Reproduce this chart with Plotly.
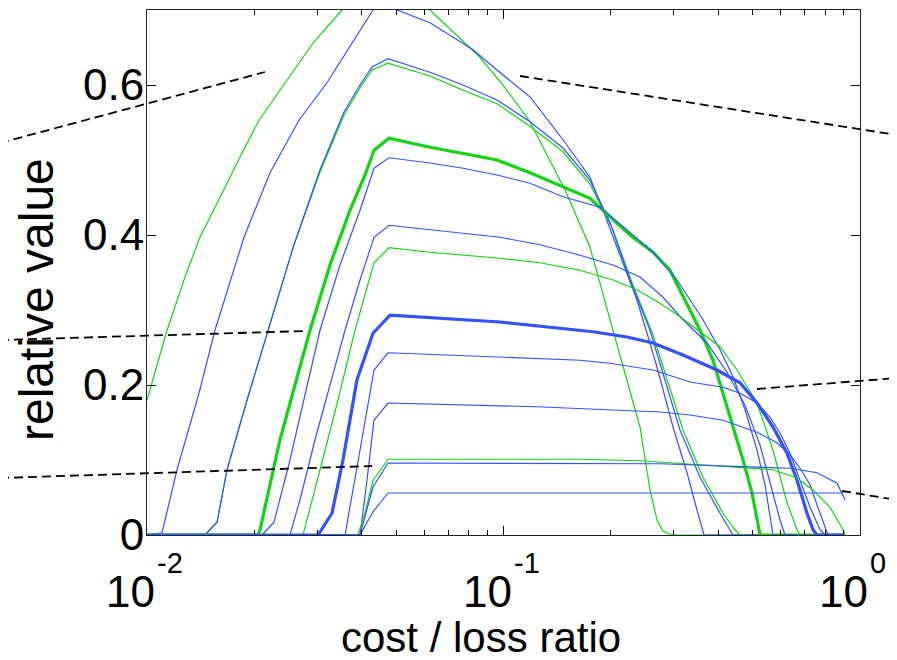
import math
import plotly.graph_objects as go

# ---- data (cost/loss ratio, relative value) ----
g1_x = [0.01, 0.01138, 0.01278, 0.01408, 0.01677, 0.01823, 0.02062, 0.02257, 0.02922, 0.03524, 0.04088, 0.04743, 0.05467, 0.06221, 0.08592, 0.09967, 0.1187, 0.1488, 0.1748, 0.2028, 0.2308, 0.2415, 0.2576, 0.2695, 0.2802, 0.2970, 0.9078]
g1_y = [0.180, 0.273, 0.344, 0.397, 0.469, 0.504, 0.553, 0.580, 0.656, 0.700, 0.727, 0.740, 0.724, 0.700, 0.637, 0.600, 0.551, 0.460, 0.384, 0.273, 0.180, 0.144, 0.060, 0.020, 0.005, 0.0, 0.0]

b1_x = [0.01, 0.01102, 0.01214, 0.01399, 0.01551, 0.01871, 0.02213, 0.02669, 0.03198, 0.04305, 0.04652, 0.05027, 0.06221, 0.08212, 0.09589, 0.1187, 0.1469, 0.1748, 0.1902, 0.2220, 0.2369, 0.2527, 0.2695, 0.2989, 0.3272, 0.3445, 0.3559, 0.3652, 0.9078]
b1_y = [0, 0.003, 0.087, 0.189, 0.273, 0.397, 0.483, 0.553, 0.603, 0.700, 0.707, 0.700, 0.683, 0.647, 0.620, 0.584, 0.527, 0.477, 0.433, 0.349, 0.313, 0.269, 0.224, 0.144, 0.083, 0.043, 0.020, 0.0, 0.0]

g2_x = [0.01, 0.01454, 0.01572, 0.01677, 0.01908, 0.02143, 0.02584, 0.03057, 0.03569, 0.03958, 0.04277, 0.04743, 0.06221, 0.07699, 0.09589, 0.1187, 0.1469, 0.1748, 0.2028, 0.2308, 0.2627, 0.3188, 0.3628, 0.4128, 0.4461, 0.4607, 0.9078]
g2_y = [0, 0, 0.017, 0.087, 0.180, 0.260, 0.387, 0.484, 0.560, 0.596, 0.620, 0.629, 0.612, 0.593, 0.575, 0.545, 0.511, 0.468, 0.407, 0.333, 0.267, 0.140, 0.077, 0.029, 0.007, 0.0, 0.0]

b2_x = [0.01, 0.01454, 0.01572, 0.01677, 0.01908, 0.02143, 0.02584, 0.03057, 0.03569, 0.03958, 0.04277, 0.04743, 0.06221, 0.07699, 0.09589, 0.1187, 0.1469, 0.1748, 0.1989, 0.2264, 0.2576, 0.3127, 0.3559, 0.4049, 0.4319, 0.4404, 0.9078]
b2_y = [0, 0, 0.017, 0.087, 0.180, 0.260, 0.387, 0.487, 0.564, 0.600, 0.624, 0.635, 0.617, 0.600, 0.580, 0.551, 0.516, 0.473, 0.417, 0.340, 0.273, 0.140, 0.077, 0.029, 0.007, 0.0, 0.0]

g3_x = [0.01, 0.02048, 0.02075, 0.02361, 0.02601, 0.02866, 0.03261, 0.03710, 0.04088, 0.04333, 0.04773, 0.06221, 0.08055, 0.09589, 0.1187, 0.1469, 0.1748, 0.2264, 0.2627, 0.2932, 0.3272, 0.3559, 0.3870, 0.4128, 0.4404, 0.4698, 0.4979, 0.5176, 0.5243, 0.9078]
g3_y = [0, 0, 0.007, 0.127, 0.200, 0.273, 0.360, 0.433, 0.480, 0.513, 0.529, 0.517, 0.507, 0.500, 0.483, 0.464, 0.449, 0.400, 0.377, 0.353, 0.309, 0.273, 0.233, 0.189, 0.144, 0.100, 0.056, 0.011, 0.0, 0.0]

b3_x = [0.01, 0.02102, 0.02271, 0.02518, 0.02775, 0.03057, 0.03478, 0.03958, 0.04333, 0.04773, 0.06221, 0.07699, 0.09589, 0.1187, 0.1469, 0.1865, 0.2308, 0.2627, 0.3067, 0.3628, 0.4049, 0.4404, 0.4759, 0.5142, 0.5415, 0.5593, 0.5702, 0.9078]
b3_y = [0, 0, 0.017, 0.100, 0.187, 0.273, 0.360, 0.433, 0.489, 0.503, 0.496, 0.489, 0.480, 0.469, 0.451, 0.437, 0.400, 0.377, 0.340, 0.287, 0.247, 0.211, 0.167, 0.113, 0.067, 0.027, 0.0, 0.0]

b4_x = [0.01, 0.02518, 0.02686, 0.02960, 0.03261, 0.03593, 0.03958, 0.04333, 0.04773, 0.06221, 0.09776, 0.1266, 0.1639, 0.2028, 0.2415, 0.2802, 0.3188, 0.3723, 0.4236, 0.4759, 0.5243, 0.5666, 0.5966, 0.6162, 0.9078]
b4_y = [0, 0, 0.047, 0.127, 0.200, 0.273, 0.340, 0.397, 0.413, 0.407, 0.397, 0.387, 0.373, 0.360, 0.344, 0.317, 0.287, 0.256, 0.217, 0.173, 0.120, 0.060, 0.020, 0.0, 0.0]

g4_x = [0.01, 0.02739, 0.03057, 0.03434, 0.03832, 0.04333, 0.04773, 0.06221, 0.09776, 0.1266, 0.1639, 0.2028, 0.2369, 0.2748, 0.3127, 0.3723, 0.4049, 0.4519, 0.5142, 0.5702, 0.6242, 0.6658, 0.6789, 0.9078]
g4_y = [0, 0, 0.087, 0.180, 0.273, 0.363, 0.383, 0.377, 0.369, 0.363, 0.353, 0.340, 0.327, 0.309, 0.291, 0.264, 0.251, 0.220, 0.176, 0.113, 0.043, 0.007, 0.0, 0.0]

b5_x = [0.01, 0.03018, 0.03303, 0.03546, 0.03882, 0.04305, 0.04804, 0.06766, 0.09776, 0.1350, 0.1783, 0.2220, 0.2627, 0.3188, 0.3971, 0.4607, 0.5142, 0.5702, 0.6242, 0.6658, 0.7103, 0.7383, 0.7577, 0.9078]
b5_y = [0, 0, 0.029, 0.100, 0.207, 0.269, 0.293, 0.289, 0.284, 0.277, 0.271, 0.264, 0.256, 0.240, 0.220, 0.203, 0.176, 0.144, 0.109, 0.073, 0.029, 0.007, 0.0, 0.0]

b6_x = [0.01, 0.03593, 0.03958, 0.04333, 0.04743, 0.07079, 0.1023, 0.1242, 0.1639, 0.1989, 0.2415, 0.2627, 0.3336, 0.4128, 0.4607, 0.5142, 0.5593, 0.5966, 0.6364, 0.6789, 0.7242, 0.7725, 0.7977, 0.9078]
b6_y = [0, 0, 0.113, 0.220, 0.243, 0.240, 0.237, 0.236, 0.233, 0.229, 0.223, 0.220, 0.204, 0.197, 0.189, 0.176, 0.157, 0.136, 0.109, 0.073, 0.037, 0.007, 0.0, 0.0]

b7_x = [0.01, 0.03958, 0.04141, 0.04333, 0.04743, 0.07900, 0.1242, 0.2748, 0.3336, 0.4128, 0.5142, 0.5852, 0.6364, 0.6789, 0.7242, 0.7577, 0.7876, 0.8134, 0.9078]
b7_y = [0, 0, 0.073, 0.153, 0.176, 0.173, 0.171, 0.164, 0.160, 0.153, 0.137, 0.123, 0.107, 0.089, 0.067, 0.040, 0.017, 0.0, 0.0]

g5_x = [0.01, 0.03907, 0.04088, 0.04305, 0.04743, 0.1660, 0.2415, 0.3723, 0.5142, 0.5702, 0.6658, 0.7383, 0.8240, 0.8962, 0.9078]
g5_y = [0, 0, 0.029, 0.073, 0.101, 0.101, 0.099, 0.093, 0.089, 0.087, 0.076, 0.060, 0.037, 0.007, 0.0]

b8_x = [0.01, 0.03958, 0.04305, 0.04743, 0.2748, 0.4607, 0.6364, 0.7577, 0.8621, 0.9078]
b8_y = [0, 0, 0.064, 0.096, 0.095, 0.091, 0.089, 0.083, 0.069, 0.047]

b9_x = [0.01, 0.03958, 0.04305, 0.04743, 0.8962]
b9_y = [0, 0, 0.031, 0.056, 0.056]

x_tickvals = [0.01, 0.1, 1]
x_tick_base = ["10", "10", "10"]
x_tick_exp = ["-2", "-1", "0"]
x_minor = [0.02, 0.03, 0.04, 0.05, 0.06, 0.07, 0.08, 0.09, 0.2, 0.3, 0.4, 0.5, 0.6, 0.7, 0.8, 0.9]
y_tickvals = [0, 0.2, 0.4, 0.6]
y_ticktext = ["0", "0.2", "0.4", "0.6"]
x_title = "cost / loss ratio"
y_title = "relative value"

# connector dashed lines (paper coordinates of the axes box)
dash_lines = [
    (-0.2062, 0.7467, 0.1655, 0.8819),
    (0.5231, 0.8743, 1.0519, 0.7619),
    (-0.2062, 0.3714, 0.2230, 0.3886),
    (-0.2062, 0.1086, 0.3156, 0.1314),
    (0.8555, 0.2781, 1.0519, 0.2990),
    (0.9748, 0.0838, 1.0519, 0.0667),
]

BLUE = "#3352ff"
GREEN = "#12d412"
THIN = 1.2
THICK = 3.2

series = [
    (g1_x, g1_y, GREEN, THIN),
    (b1_x, b1_y, BLUE, THIN),
    (g2_x, g2_y, GREEN, THIN),
    (b2_x, b2_y, BLUE, THIN),
    (g3_x, g3_y, GREEN, THICK),
    (b3_x, b3_y, BLUE, THIN),
    (b4_x, b4_y, BLUE, THIN),
    (g4_x, g4_y, GREEN, THIN),
    (b5_x, b5_y, BLUE, THICK),
    (b6_x, b6_y, BLUE, THIN),
    (b7_x, b7_y, BLUE, THIN),
    (g5_x, g5_y, GREEN, THIN),
    (b8_x, b8_y, BLUE, THIN),
    (b9_x, b9_y, BLUE, THIN),
]

fig = go.Figure()
for xs, ys, col, w in series:
    fig.add_trace(go.Scatter(x=xs, y=ys, mode="lines",
                             line=dict(color=col, width=w),
                             hoverinfo="skip", showlegend=False))

for x0, y0, x1, y1 in dash_lines:
    fig.add_shape(type="line", xref="paper", yref="paper",
                  x0=x0, y0=y0, x1=x1, y1=y1,
                  line=dict(color="black", width=1.8, dash="9px,5px"))

FONT = "Liberation Sans, Arial, Helvetica, sans-serif"

# x tick labels: base "10" plus raised exponent
for v, base, ex in zip(x_tickvals, x_tick_base, x_tick_exp):
    lv = math.log10(v)
    fig.add_annotation(x=lv, xref="x", y=0, yref="paper", text=base,
                       showarrow=False, xanchor="right", yanchor="middle",
                       xshift=10, yshift=-56, font=dict(size=44, family=FONT, color="black"))
    fig.add_annotation(x=lv, xref="x", y=0, yref="paper", text=ex,
                       showarrow=False, xanchor="left", yanchor="middle",
                       xshift=8, yshift=-28, font=dict(size=29, family=FONT, color="black"))

fig.add_annotation(x=0.468, xref="paper", y=0, yref="paper", text=x_title,
                   showarrow=False, xanchor="center", yanchor="middle",
                   yshift=-102, font=dict(size=42, family=FONT, color="black"))
fig.add_annotation(x=0, xref="paper", y=0.4476, yref="paper", text=y_title,
                   showarrow=False, textangle=-90, xanchor="center", yanchor="middle",
                   xshift=-111, font=dict(size=48, family=FONT, color="black"))

# page has an 8px body offset: plot box at page (147..860, 10..535)
fig.update_layout(
    width=897, height=660,
    margin=dict(l=139, r=45, t=2, b=133, autoexpand=False),
    paper_bgcolor="white", plot_bgcolor="white",
    font=dict(family=FONT, color="black"),
    showlegend=False,
)
fig.update_xaxes(
    type="log", range=[-2, 0],
    tickmode="array", tickvals=x_tickvals, showticklabels=False,
    ticks="inside", ticklen=9, tickwidth=1, tickcolor="black",
    minor=dict(tickmode="array", tickvals=x_minor, ticks="inside",
               ticklen=5, tickwidth=1, tickcolor="black", showgrid=False),
    showline=True, linecolor="#222", linewidth=1, mirror="ticks",
    showgrid=False, zeroline=False,
)
fig.update_yaxes(
    range=[0, 0.7],
    tickmode="array", tickvals=y_tickvals, ticktext=y_ticktext,
    ticks="inside", ticklen=9, tickwidth=1, tickcolor="black",
    showline=True, linecolor="#222", linewidth=1, mirror="ticks",
    showgrid=False, zeroline=False,
    tickfont=dict(size=44, family=FONT),
    ticklabelstandoff=-7,
)

fig.write_html("out.html")
